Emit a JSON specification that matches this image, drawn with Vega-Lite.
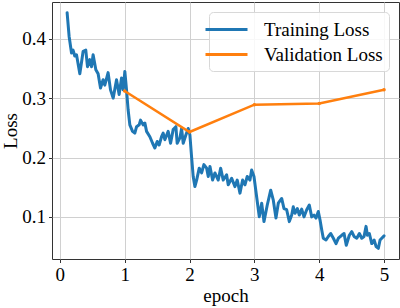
{
  "$schema": "https://vega.github.io/schema/vega-lite/v6.json",
  "width": 347,
  "height": 257,
  "autosize": {"type": "none"},
  "padding": {"left": 52, "top": 2, "right": 1, "bottom": 49},
  "config": {
    "font": "Liberation Serif",
    "view": {"stroke": "#333333", "strokeWidth": 1},
    "axis": {
      "labelFont": "Liberation Serif",
      "titleFont": "Liberation Serif",
      "labelFontSize": 19,
      "titleFontSize": 19,
      "titleFontWeight": "normal",
      "labelColor": "#000000",
      "titleColor": "#000000",
      "domain": false,
      "gridColor": "#d0d0d0",
      "gridWidth": 1,
      "tickColor": "#333333",
      "tickSize": 3.5,
      "labelPadding": 3
    },
    "legend": {
      "labelFont": "Liberation Serif",
      "labelFontSize": 19,
      "labelColor": "#000000"
    }
  },
  "datasets": {
    "train": [
      {"epoch": 0.113, "loss": 0.444}, {"epoch": 0.144, "loss": 0.404}, {"epoch": 0.181, "loss": 0.376},
      {"epoch": 0.205, "loss": 0.381}, {"epoch": 0.231, "loss": 0.371}, {"epoch": 0.258, "loss": 0.373},
      {"epoch": 0.309, "loss": 0.341}, {"epoch": 0.360, "loss": 0.379}, {"epoch": 0.401, "loss": 0.381},
      {"epoch": 0.427, "loss": 0.353}, {"epoch": 0.463, "loss": 0.365}, {"epoch": 0.489, "loss": 0.353},
      {"epoch": 0.514, "loss": 0.373}, {"epoch": 0.556, "loss": 0.348}, {"epoch": 0.591, "loss": 0.341},
      {"epoch": 0.628, "loss": 0.317}, {"epoch": 0.668, "loss": 0.331}, {"epoch": 0.694, "loss": 0.322},
      {"epoch": 0.745, "loss": 0.343}, {"epoch": 0.782, "loss": 0.314}, {"epoch": 0.823, "loss": 0.300},
      {"epoch": 0.875, "loss": 0.331}, {"epoch": 0.915, "loss": 0.306}, {"epoch": 0.952, "loss": 0.334},
      {"epoch": 0.977, "loss": 0.314}, {"epoch": 1.003, "loss": 0.345}, {"epoch": 1.029, "loss": 0.314},
      {"epoch": 1.054, "loss": 0.280}, {"epoch": 1.080, "loss": 0.255}, {"epoch": 1.122, "loss": 0.244},
      {"epoch": 1.157, "loss": 0.241}, {"epoch": 1.184, "loss": 0.252}, {"epoch": 1.224, "loss": 0.255},
      {"epoch": 1.245, "loss": 0.263}, {"epoch": 1.285, "loss": 0.255}, {"epoch": 1.312, "loss": 0.258},
      {"epoch": 1.338, "loss": 0.244}, {"epoch": 1.389, "loss": 0.235}, {"epoch": 1.431, "loss": 0.224},
      {"epoch": 1.466, "loss": 0.216}, {"epoch": 1.502, "loss": 0.227}, {"epoch": 1.532, "loss": 0.221},
      {"epoch": 1.569, "loss": 0.235}, {"epoch": 1.594, "loss": 0.241}, {"epoch": 1.620, "loss": 0.230},
      {"epoch": 1.671, "loss": 0.244}, {"epoch": 1.708, "loss": 0.224}, {"epoch": 1.748, "loss": 0.247},
      {"epoch": 1.790, "loss": 0.252}, {"epoch": 1.810, "loss": 0.224}, {"epoch": 1.852, "loss": 0.233},
      {"epoch": 1.878, "loss": 0.249}, {"epoch": 1.903, "loss": 0.224}, {"epoch": 1.944, "loss": 0.238},
      {"epoch": 1.980, "loss": 0.249}, {"epoch": 2.006, "loss": 0.238}, {"epoch": 2.032, "loss": 0.201},
      {"epoch": 2.057, "loss": 0.168}, {"epoch": 2.083, "loss": 0.151}, {"epoch": 2.110, "loss": 0.162},
      {"epoch": 2.150, "loss": 0.182}, {"epoch": 2.187, "loss": 0.174}, {"epoch": 2.222, "loss": 0.188},
      {"epoch": 2.264, "loss": 0.182}, {"epoch": 2.289, "loss": 0.168}, {"epoch": 2.315, "loss": 0.185},
      {"epoch": 2.356, "loss": 0.162}, {"epoch": 2.392, "loss": 0.174}, {"epoch": 2.443, "loss": 0.162},
      {"epoch": 2.480, "loss": 0.182}, {"epoch": 2.520, "loss": 0.162}, {"epoch": 2.572, "loss": 0.171},
      {"epoch": 2.597, "loss": 0.154}, {"epoch": 2.650, "loss": 0.165}, {"epoch": 2.701, "loss": 0.151},
      {"epoch": 2.736, "loss": 0.162}, {"epoch": 2.778, "loss": 0.140}, {"epoch": 2.819, "loss": 0.162},
      {"epoch": 2.855, "loss": 0.154}, {"epoch": 2.890, "loss": 0.168}, {"epoch": 2.932, "loss": 0.162},
      {"epoch": 2.958, "loss": 0.179}, {"epoch": 2.994, "loss": 0.168}, {"epoch": 3.035, "loss": 0.134},
      {"epoch": 3.076, "loss": 0.100}, {"epoch": 3.113, "loss": 0.123}, {"epoch": 3.148, "loss": 0.092},
      {"epoch": 3.199, "loss": 0.120}, {"epoch": 3.252, "loss": 0.145}, {"epoch": 3.292, "loss": 0.128},
      {"epoch": 3.333, "loss": 0.098}, {"epoch": 3.369, "loss": 0.123}, {"epoch": 3.421, "loss": 0.131},
      {"epoch": 3.457, "loss": 0.114}, {"epoch": 3.498, "loss": 0.112}, {"epoch": 3.539, "loss": 0.092},
      {"epoch": 3.576, "loss": 0.103}, {"epoch": 3.600, "loss": 0.117}, {"epoch": 3.627, "loss": 0.106},
      {"epoch": 3.662, "loss": 0.114}, {"epoch": 3.693, "loss": 0.103}, {"epoch": 3.730, "loss": 0.113},
      {"epoch": 3.765, "loss": 0.100}, {"epoch": 3.807, "loss": 0.112}, {"epoch": 3.847, "loss": 0.120},
      {"epoch": 3.884, "loss": 0.100}, {"epoch": 3.920, "loss": 0.103}, {"epoch": 3.951, "loss": 0.098},
      {"epoch": 3.986, "loss": 0.109}, {"epoch": 4.012, "loss": 0.095}, {"epoch": 4.039, "loss": 0.078},
      {"epoch": 4.063, "loss": 0.064}, {"epoch": 4.105, "loss": 0.061}, {"epoch": 4.140, "loss": 0.067},
      {"epoch": 4.177, "loss": 0.072}, {"epoch": 4.218, "loss": 0.064}, {"epoch": 4.259, "loss": 0.055},
      {"epoch": 4.296, "loss": 0.064}, {"epoch": 4.347, "loss": 0.069}, {"epoch": 4.383, "loss": 0.072},
      {"epoch": 4.417, "loss": 0.052}, {"epoch": 4.464, "loss": 0.069}, {"epoch": 4.502, "loss": 0.075},
      {"epoch": 4.537, "loss": 0.067}, {"epoch": 4.579, "loss": 0.064}, {"epoch": 4.619, "loss": 0.072},
      {"epoch": 4.656, "loss": 0.064}, {"epoch": 4.691, "loss": 0.067}, {"epoch": 4.722, "loss": 0.084},
      {"epoch": 4.743, "loss": 0.069}, {"epoch": 4.773, "loss": 0.072}, {"epoch": 4.810, "loss": 0.055},
      {"epoch": 4.846, "loss": 0.061}, {"epoch": 4.877, "loss": 0.050}, {"epoch": 4.912, "loss": 0.047},
      {"epoch": 4.938, "loss": 0.061}, {"epoch": 4.964, "loss": 0.064}, {"epoch": 5.000, "loss": 0.068}
    ],
    "val": [
      {"epoch": 1, "loss": 0.312}, {"epoch": 2, "loss": 0.243}, {"epoch": 3, "loss": 0.289},
      {"epoch": 4, "loss": 0.291}, {"epoch": 5, "loss": 0.314}
    ]
  },
  "layer": [
    {
      "data": {"name": "train"},
      "transform": [{"calculate": "'Training Loss'", "as": "series"}],
      "mark": {"type": "line", "strokeWidth": 3, "strokeJoin": "round", "strokeCap": "round"},
      "encoding": {
        "x": {"field": "epoch", "type": "quantitative",
              "scale": {"domain": [-0.12, 5.23], "nice": false, "zero": false},
              "axis": {"values": [0, 1, 2, 3, 4, 5], "format": "d", "title": "epoch", "titlePadding": 2}},
        "y": {"field": "loss", "type": "quantitative",
              "scale": {"domain": [0.029, 0.462], "nice": false, "zero": false},
              "axis": {"values": [0.1, 0.2, 0.3, 0.4], "format": ".1f", "title": "Loss", "titlePadding": 1}},
        "color": {"field": "series", "type": "nominal",
                  "scale": {"domain": ["Training Loss", "Validation Loss"], "range": ["#1f77b4", "#ff7f0e"]},
                  "legend": {"title": null, "orient": "top-right", "offset": 10,
                             "symbolType": "M-2.1,0H2.1", "symbolSize": 400, "symbolStrokeWidth": 3,
                             "fillColor": "rgba(255,255,255,0.85)", "strokeColor": "#d8d8d8",
                             "cornerRadius": 4, "padding": 6, "rowPadding": 3, "labelOffset": 26}}
      }
    },
    {
      "data": {"name": "val"},
      "transform": [{"calculate": "'Validation Loss'", "as": "series"}],
      "mark": {"type": "line", "strokeWidth": 2.5, "point": {"size": 12, "filled": true}},
      "encoding": {
        "x": {"field": "epoch", "type": "quantitative"},
        "y": {"field": "loss", "type": "quantitative"},
        "color": {"field": "series", "type": "nominal"}
      }
    }
  ]
}
